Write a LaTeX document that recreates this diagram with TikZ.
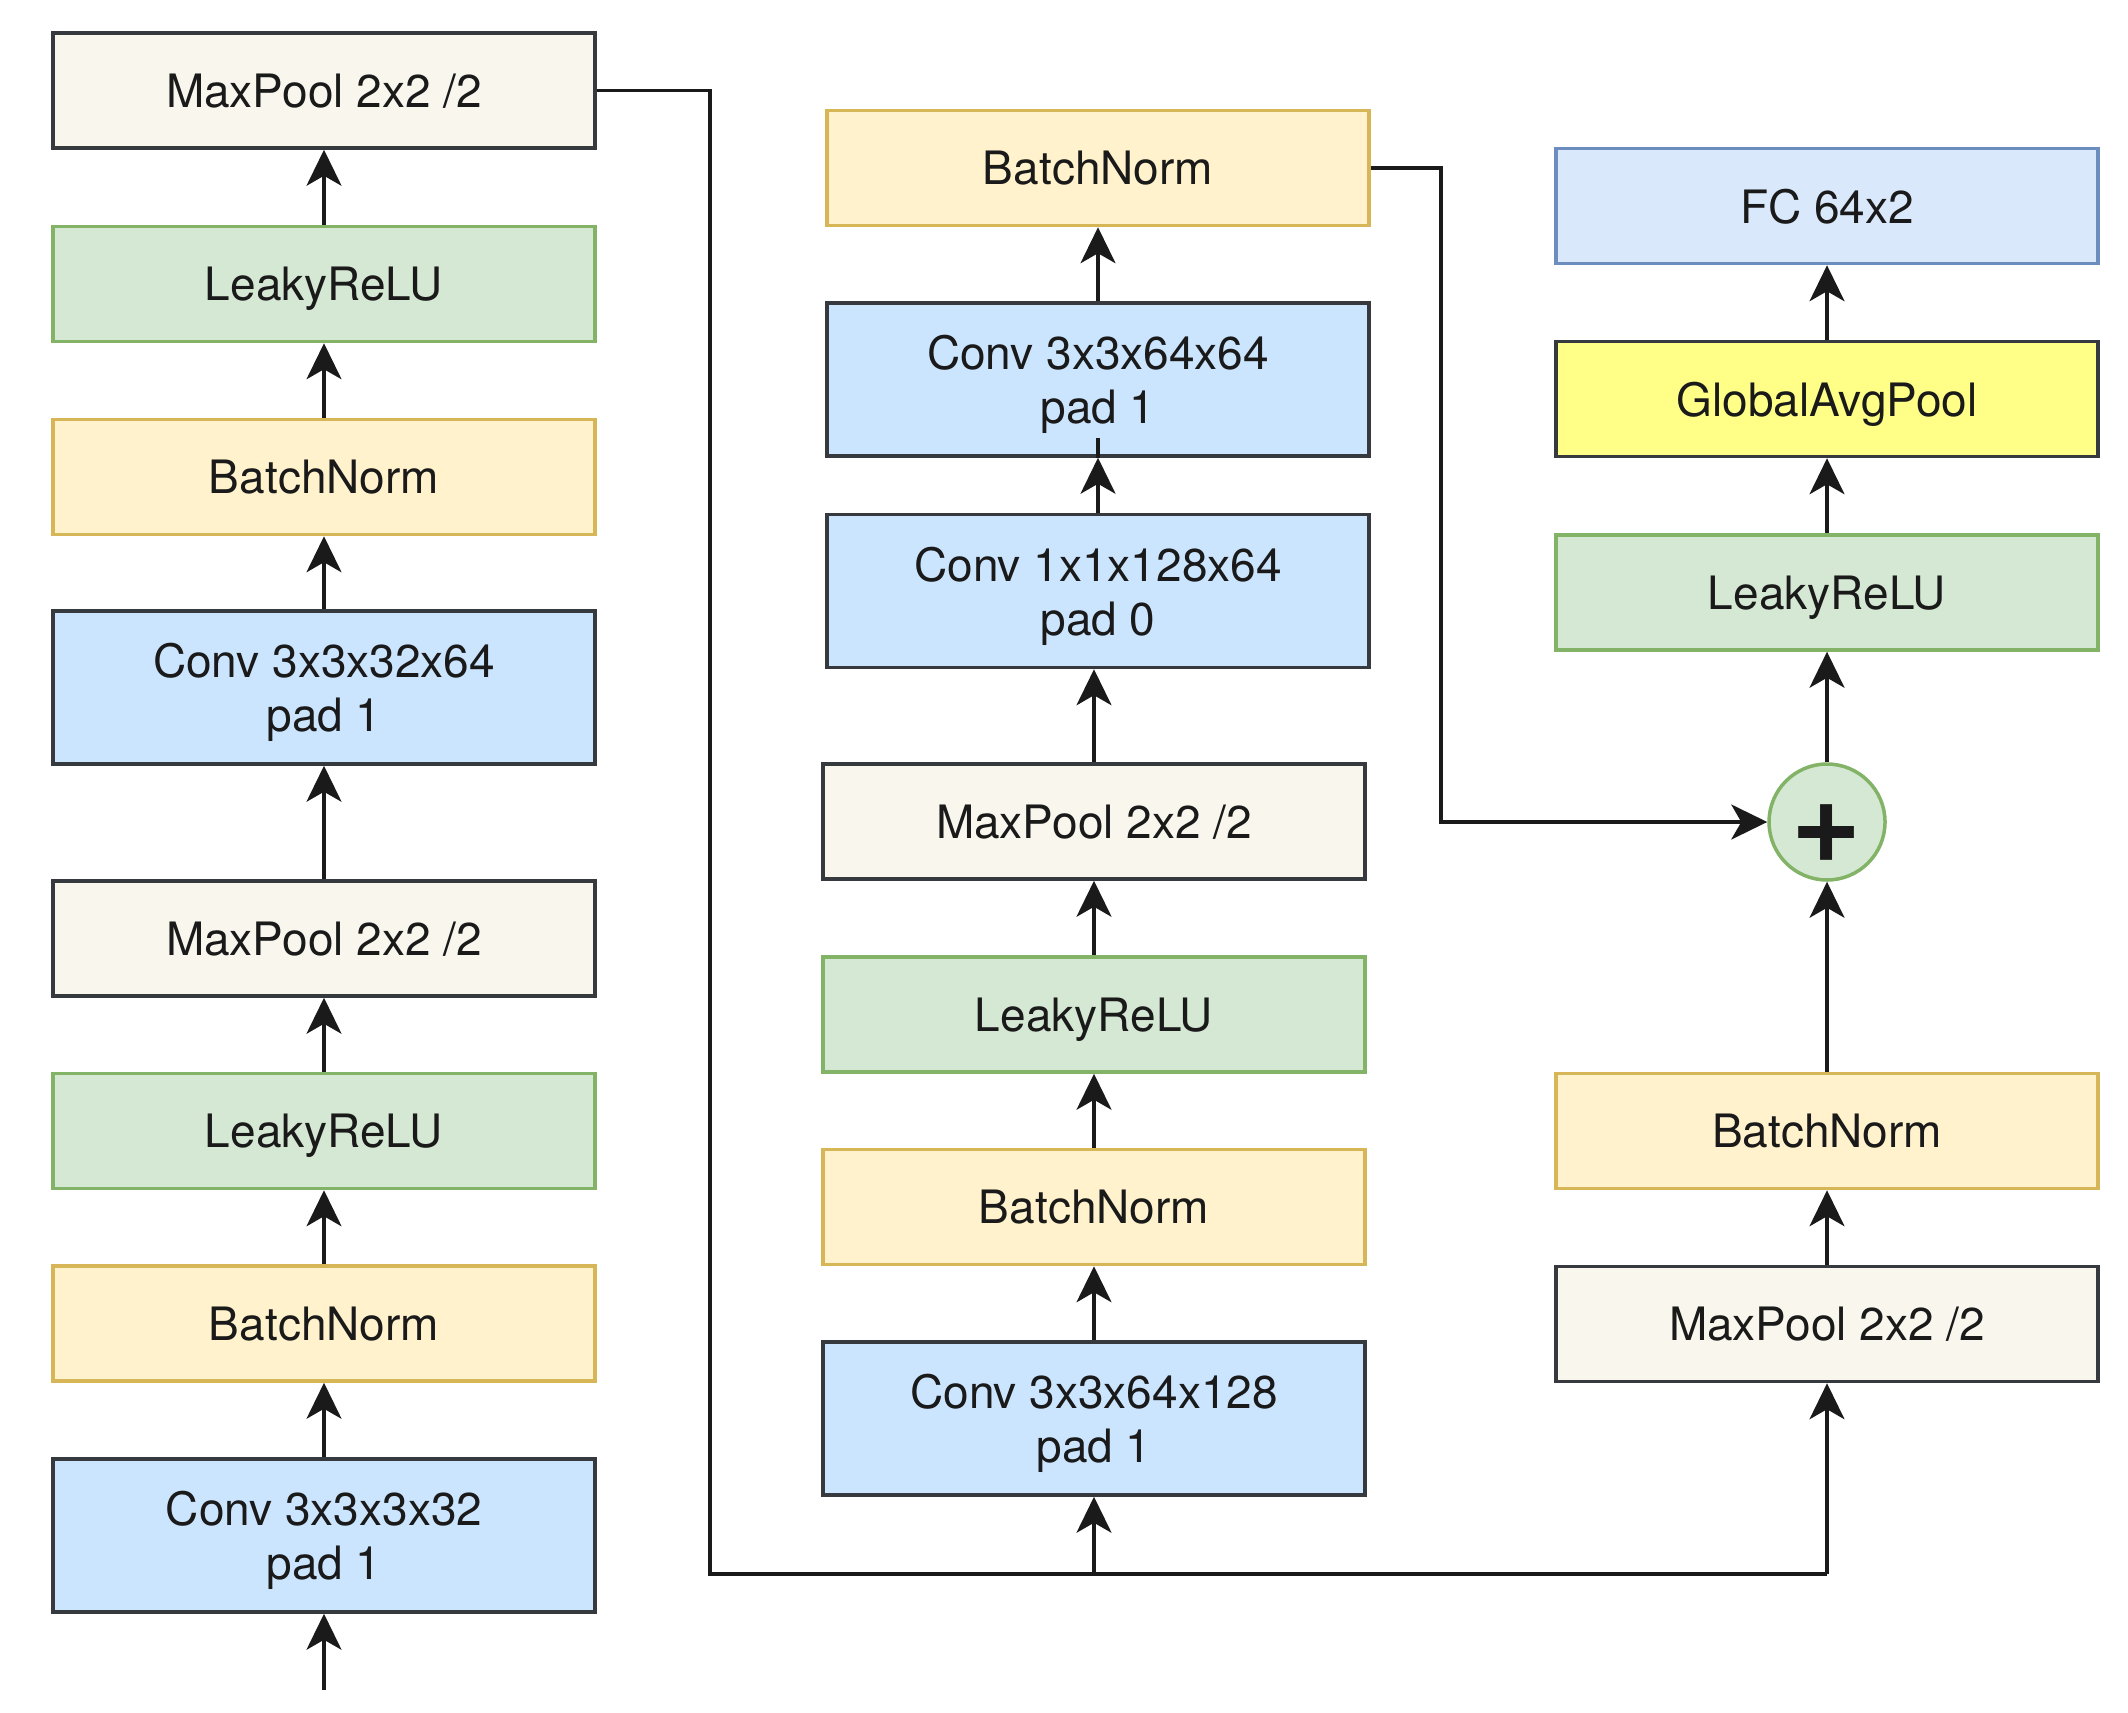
\documentclass[tikz,border=0pt]{standalone}
\usepackage{fontspec}
\setmainfont{TeX Gyre Heros}
\usetikzlibrary{arrows.meta}
\definecolor{poolfill}{HTML}{F9F7ED}
\definecolor{darkline}{HTML}{36393D}
\definecolor{relufill}{HTML}{D5E8D4}
\definecolor{reluline}{HTML}{82B366}
\definecolor{bnfill}{HTML}{FFF2CC}
\definecolor{bnline}{HTML}{D6B656}
\definecolor{convfill}{HTML}{CCE5FF}
\definecolor{fcfill}{HTML}{DAE8FC}
\definecolor{fcline}{HTML}{6C8EBF}
\definecolor{gapfill}{HTML}{FFFF88}
\definecolor{txt}{HTML}{1A1A1A}
\begin{document}
\begin{tikzpicture}[x=0.5pt,y=-0.5pt,
  box/.style={line width=1.75pt, minimum width=271pt, minimum height=57.5pt,
    inner sep=0pt, align=center, text=txt, text depth=0pt, font=\fontsize{23}{27}\selectfont},
  tall/.style={minimum height=76.5pt},
  pool/.style={box, draw=darkline, fill=poolfill},
  relu/.style={box, draw=reluline, fill=relufill},
  bn/.style={box, draw=bnline, fill=bnfill},
  conv/.style={box, draw=darkline, fill=convfill},
  fc/.style={box, draw=fcline, fill=fcfill},
  gap/.style={box, draw=darkline, fill=gapfill},
  link/.style={line width=1.6pt, draw=txt},
  conn/.style={link, -{Stealth[length=18pt,width=17.5pt,inset=5pt]}}]
\useasboundingbox (0,0) rectangle (2128,1712);
% left column
\coordinate (in) at (324,1690);
\node[conv,tall] (L1) at (324,1535.5) {Conv 3x3x3x32\\pad 1};
\node[bn] (L2) at (324,1323.5) {BatchNorm};
\node[relu] (L3) at (324,1131) {LeakyReLU};
\node[pool] (L4) at (324,938.5) {MaxPool 2x2 /2};
\node[conv,tall] (L5) at (324,687.5) {Conv 3x3x32x64\\pad 1};
\node[bn] (L6) at (324,477) {BatchNorm};
\node[relu] (L7) at (324,284) {LeakyReLU};
\node[pool] (L8) at (324,90.5) {MaxPool 2x2 /2};
% middle column
\node[conv,tall] (M1) at (1094,1418.5) {Conv 3x3x64x128\\pad 1};
\node[bn] (M2) at (1094,1207) {BatchNorm};
\node[relu] (M3) at (1094,1014.5) {LeakyReLU};
\node[pool] (M4) at (1094,821.5) {MaxPool 2x2 /2};
\node[conv,tall] (M5) at (1098,591) {Conv 1x1x128x64\\pad 0};
\node[conv,tall] (M6) at (1098,379.5) {Conv 3x3x64x64\\pad 1};
\node[bn] (M7) at (1098,168) {BatchNorm};
% right column
\node[pool] (R1) at (1827,1324) {MaxPool 2x2 /2};
\node[bn] (R2) at (1827,1131) {BatchNorm};
\node[circle, line width=1.75pt, draw=reluline, fill=relufill, minimum size=58pt, inner sep=0pt] (add) at (1827,822) {};
\node[text=txt, font=\fontsize{60}{60}\selectfont\bfseries, inner sep=0pt] (plus) at (1827,834) {+};
\node[relu] (R3) at (1827,592.5) {LeakyReLU};
\node[gap] (R4) at (1827,399) {GlobalAvgPool};
\node[fc] (R5) at (1827,206) {FC 64x2};
% connectors left
\draw[conn] (in) -- (L1.south);
\draw[conn] (L1) -- (L2);
\draw[conn] (L2) -- (L3);
\draw[conn] (L3) -- (L4);
\draw[conn] (L4) -- (L5);
\draw[conn] (L5) -- (L6);
\draw[conn] (L6) -- (L7);
\draw[conn] (L7) -- (L8);
% bus
\coordinate (busL) at (710,1574);
\coordinate (busR) at (1827,1574);
\draw[link] (L8.east) -| (busL) -- (busR);
\draw[conn] (busL -| M1.south) -- (M1.south);
\draw[conn] (busR) -- (R1.south);
% middle connectors
\draw[conn] (M1) -- (M2);
\draw[conn] (M2) -- (M3);
\draw[conn] (M3) -- (M4);
\draw[conn] (M4.north) -- (M4.north |- M5.south);
\draw[conn] (M5) -- (M6);
\draw[link] (M6.south) -- ++(0,-20);
\draw[conn] (M6) -- (M7);
% skip
\coordinate (sk) at (1441,168);
\draw[conn] (M7.east) -- (sk) |- (add.west);
% right connectors
\draw[conn] (R1) -- (R2);
\draw[conn] (R2) -- (add);
\draw[conn] (add) -- (R3);
\draw[conn] (R3) -- (R4);
\draw[conn] (R4) -- (R5);
\end{tikzpicture}
\end{document}
